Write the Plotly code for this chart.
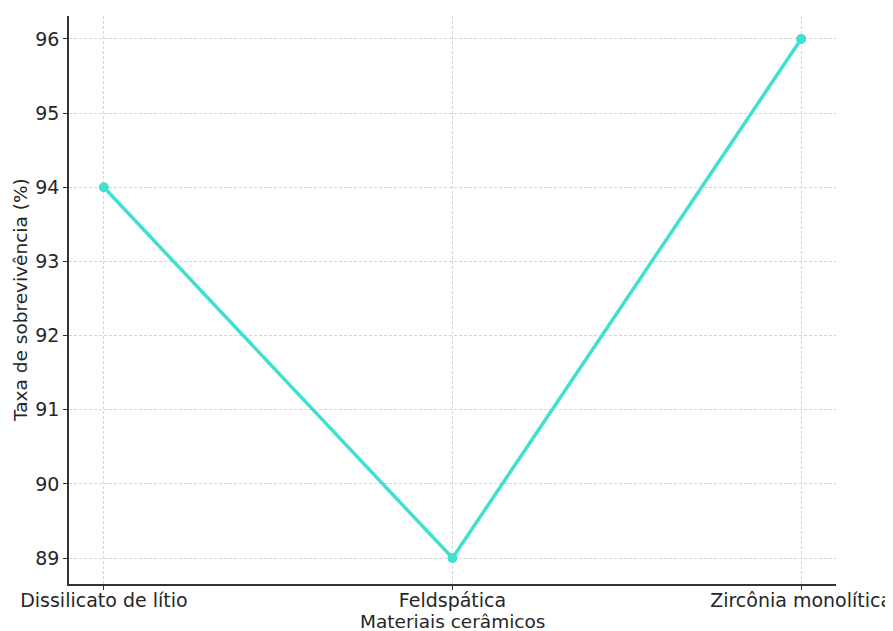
import plotly.graph_objects as go

materials = ["Dissilicato de lítio", "Feldspática", "Zircônia monolítica"]
survival = [94, 89, 96]
y_ticks = [89, 90, 91, 92, 93, 94, 95, 96]

fig = go.Figure()
fig.add_trace(go.Scatter(
    x=list(range(len(materials))), y=survival, mode="lines+markers",
    line=dict(color="#40E0D0", width=3.5),
    marker=dict(color="#40E0D0", size=10),
))

axis_common = dict(
    automargin=False,
    tickfont=dict(size=19),
    showline=True, linecolor="#333333", linewidth=1.5,
    ticks="outside", ticklen=4, tickcolor="#333333",
    showgrid=True, gridcolor="#d4d4d4", griddash="3px,2px", gridwidth=1,
    zeroline=False,
)

fig.update_layout(
    width=885, height=623,
    margin=dict(l=61, r=57, t=8, b=47),
    paper_bgcolor="white", plot_bgcolor="white",
    font=dict(family="DejaVu Sans", color="#262626"),
    showlegend=False,
    xaxis=dict(
        range=[-0.1, 2.1],
        tickmode="array", tickvals=list(range(len(materials))), ticktext=materials,
        ticklabelstandoff=-6,
        **axis_common,
    ),
    yaxis=dict(
        range=[88.65, 96.31],
        tickmode="array", tickvals=y_ticks,
        **axis_common,
    ),
    annotations=[
        dict(text="Materiais cerâmicos", xref="paper", yref="paper", x=0.5, y=0,
             xanchor="center", yanchor="middle", yshift=-37, showarrow=False,
             font=dict(size=18.5, color="#262626")),
        dict(text="Taxa de sobrevivência (%)", xref="paper", yref="paper", x=0, y=0.5,
             xanchor="center", yanchor="middle", xshift=-49, textangle=-90,
             showarrow=False, font=dict(size=18.5, color="#262626")),
    ],
)

fig.write_html("out.html")
